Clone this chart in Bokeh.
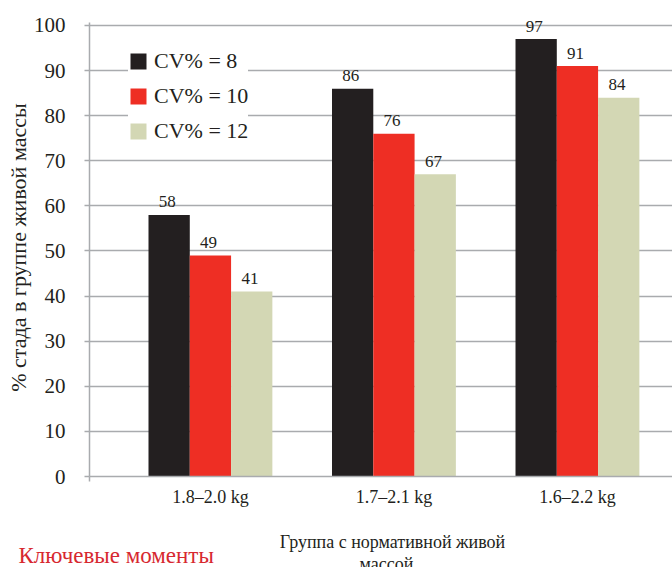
from bokeh.plotting import figure
from bokeh.layouts import column
from bokeh.models import (Range1d, FixedTicker, ColumnDataSource, Legend, LegendItem)
from bokeh.transform import dodge
from bokeh.core.properties import value
from bokeh.embed import file_html
from bokeh.resources import INLINE

# Data
groups = ["1.8–2.0 kg", "1.7–2.1 kg", "1.6–2.2 kg"]
cv8 = [58, 86, 97]
cv10 = [49, 76, 91]
cv12 = [41, 67, 84]
series_names = ["CV% = 8", "CV% = 10", "CV% = 12"]
y_ticks = [0, 10, 20, 30, 40, 50, 60, 70, 80, 90, 100]
x_title = ["Группа с нормативной живой", "массой"]
note = "Ключевые моменты"

SERIF = "Liberation Serif"
INK = "#231f20"
GRID = "#a9abae"
colors = ["#231f20", "#ee2e24", "#d3d7b4"]

idx = list(range(len(groups)))
src = ColumnDataSource(dict(x=idx, cv8=cv8, cv10=cv10, cv12=cv12,
                            l8=[str(v) for v in cv8],
                            l10=[str(v) for v in cv10],
                            l12=[str(v) for v in cv12]))

x_left = -0.659
p = figure(width=672, height=520, output_backend="svg", toolbar_location=None,
           x_range=Range1d(x_left, 2.518), y_range=Range1d(0, 101.55),
           min_border_left=89, min_border_right=0, min_border_top=18,
           min_border_bottom=44)
p.frame_align = False
p.outline_line_color = None
p.background_fill_color = "white"
p.border_fill_color = "white"

bw = 0.225
renderers = []
for off, col, c, lab in [(-bw, "cv8", colors[0], "l8"),
                         (0.0, "cv10", colors[1], "l10"),
                         (bw, "cv12", colors[2], "l12")]:
    r = p.vbar(x=dodge("x", off, range=p.x_range), top=col, width=bw, source=src,
               fill_color=c, line_color=None)
    renderers.append(r)
    p.text(x=dodge("x", off - 0.01, range=p.x_range), y=col, text=lab, source=src,
           text_font=value(SERIF), text_font_size="17px", text_color=INK,
           text_align="center", text_baseline="alphabetic", y_offset=-13)

# Axes and grid
p.xgrid.grid_line_color = None
p.ygrid.grid_line_color = GRID
p.ygrid.grid_line_width = 1.5
p.ygrid.ticker = FixedTicker(ticks=y_ticks)

p.yaxis.ticker = FixedTicker(ticks=y_ticks)
p.yaxis.bounds = (0, 100.66)
p.yaxis.axis_line_color = GRID
p.yaxis.axis_line_width = 1.5
p.yaxis.major_tick_line_color = GRID
p.yaxis.major_tick_line_width = 1.5
p.yaxis.major_tick_out = 5
p.yaxis.major_tick_in = 0
p.yaxis.minor_tick_line_color = None
p.yaxis.major_label_standoff = 19
p.yaxis.major_label_text_font = SERIF
p.yaxis.major_label_text_font_size = "21px"
p.yaxis.major_label_text_color = INK
p.yaxis.axis_label = "% стада в группе живой массы"
p.yaxis.axis_label_text_font = SERIF
p.yaxis.axis_label_text_font_size = "22px"
p.yaxis.axis_label_text_font_style = "normal"
p.yaxis.axis_label_text_color = INK
p.yaxis.axis_label_standoff = 0

p.xaxis.ticker = FixedTicker(ticks=idx, minor_ticks=[x_left])
p.xaxis.major_label_overrides = {i: g for i, g in zip(idx, groups)}
p.xaxis.axis_line_color = GRID
p.xaxis.axis_line_width = 1.5
p.xaxis.major_tick_line_color = None
p.xaxis.major_tick_out = 0
p.xaxis.major_tick_in = 0
p.xaxis.minor_tick_line_color = GRID
p.xaxis.minor_tick_line_width = 1.5
p.xaxis.minor_tick_out = 5
p.xaxis.minor_tick_in = 0
p.xaxis.major_label_standoff = 5
p.xaxis.major_label_text_font = SERIF
p.xaxis.major_label_text_font_size = "18px"
p.xaxis.major_label_text_color = INK

legend = Legend(items=[LegendItem(label=n, renderers=[r]) for n, r in zip(series_names, renderers)],
                location=(39, 332), background_fill_color="white", background_fill_alpha=1,
                border_line_color=None, glyph_width=20, glyph_height=20, label_height=20,
                spacing=9, padding=8, margin=0, label_standoff=6,
                label_text_font=SERIF, label_text_font_size="22px", label_text_color=INK)
p.add_layout(legend)

# Strip under the chart: axis title (two lines) and the red section heading
foot = figure(width=672, height=47, output_backend="svg", toolbar_location=None,
              x_range=Range1d(0, 672), y_range=Range1d(47, 0),
              x_axis_location=None, y_axis_location=None,
              min_border=0, outline_line_color=None)
foot.frame_align = False
foot.grid.visible = False
foot.text(x=[392, 386], y=[21, 43], text=x_title, text_font=value(SERIF),
          text_font_size="18px", text_color=INK, text_align="center",
          text_baseline="middle")
foot.text(x=[18], y=[35], text=[note], text_font=value(SERIF),
          text_font_size="23px", text_color="#d7282f", text_align="left",
          text_baseline="middle")

open("out.html", "w").write(file_html(column(p, foot, spacing=0), INLINE))
